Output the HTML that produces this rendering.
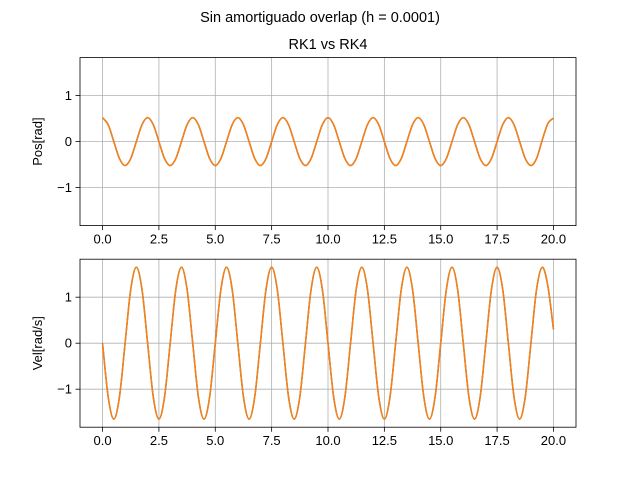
<!DOCTYPE html>
<html><head><meta charset="utf-8">
<style>body{margin:0;background:#fff}svg{display:block;font-family:"Liberation Sans","DejaVu Sans",sans-serif}</style>
</head><body>
<svg id="chart" width="640" height="480">
<text x="320" y="22" font-size="14.5" text-anchor="middle">Sin amortiguado overlap (h = 0.0001)</text>
<text x="328" y="49" font-size="14.5" text-anchor="middle">RK1 vs RK4</text>
</svg>
<script>
const tStep = 0.25;
const posRK1 = [
0.52,0.368,0,-0.368,-0.52,-0.368,0,0.368,
0.52,0.368,0,-0.368,-0.52,-0.368,0,0.368,
0.52,0.368,0,-0.368,-0.52,-0.368,0,0.368,
0.52,0.368,0,-0.368,-0.52,-0.368,0,0.368,
0.52,0.368,0,-0.368,-0.52,-0.368,0,0.368,
0.52,0.368,0,-0.368,-0.52,-0.368,0,0.368,
0.52,0.368,0,-0.368,-0.52,-0.368,0,0.368,
0.52,0.368,0,-0.368,-0.52,-0.368,0,0.368,
0.52,0.368,0,-0.368,-0.52,-0.368,0,0.368,
0.52,0.368,0,-0.368,-0.52,-0.368,0.03,0.39,
0.51];
const posRK4 = posRK1.slice();
const velRK1 = [
0,-1.167,-1.65,-1.167,0,1.167,1.65,1.167,
0,-1.167,-1.65,-1.167,0,1.167,1.65,1.167,
0,-1.167,-1.65,-1.167,0,1.167,1.65,1.167,
0,-1.167,-1.65,-1.167,0,1.167,1.65,1.167,
0,-1.167,-1.65,-1.167,0,1.167,1.65,1.167,
0,-1.167,-1.65,-1.167,0,1.167,1.65,1.167,
0,-1.167,-1.65,-1.167,0,1.167,1.65,1.167,
0,-1.167,-1.65,-1.167,0,1.167,1.65,1.167,
0,-1.167,-1.65,-1.167,0,1.167,1.65,1.167,
0,-1.167,-1.65,-1.167,0,1.167,1.65,1.25,
0.3];
const velRK4 = velRK1.slice();
const xTicks = [0,2.5,5,7.5,10,12.5,15,17.5,20];
const xTickLabels = ["0.0","2.5","5.0","7.5","10.0","12.5","15.0","17.5","20.0"];
const yTicks = [-1,0,1];
const yTickLabels = ["\u22121","0","1"];

const NS="http://www.w3.org/2000/svg";
const svg=document.getElementById('chart');
const L=80,R=576,xMin=-1,xMax=21,yMin=-1.826,yMax=1.826;
function mk(tag,attrs,parent){const e=document.createElementNS(NS,tag);for(const k in attrs)e.setAttribute(k,attrs[k]);(parent||svg).appendChild(e);return e;}
const xs=v=>L+(v-xMin)/(xMax-xMin)*(R-L);
function makeAxes(top,bot,name,ylabel,s1,s2){
  const ys=v=>bot-(v-yMin)/(yMax-yMin)*(bot-top);
  const g=mk('g',{});
  
  
  xTicks.forEach((t,i)=>{
    const gl=mk('line',{x1:xs(t),x2:xs(t),y1:top,y2:bot,stroke:'#b0b0b0','stroke-width':0.8},g);
    
    
    mk('line',{x1:xs(t),x2:xs(t),y1:bot,y2:bot+4.5,stroke:'#000','stroke-width':0.8},g);
    const tx=mk('text',{x:xs(t),y:bot+18,'font-size':13,'text-anchor':'middle'},g);
    tx.textContent=xTickLabels[i];
    
    
  });
  yTicks.forEach((t,i)=>{
    const gl=mk('line',{x1:L,x2:R,y1:ys(t),y2:ys(t),stroke:'#b0b0b0','stroke-width':0.8},g);
    
    
    mk('line',{x1:L-4.5,x2:L,y1:ys(t),y2:ys(t),stroke:'#000','stroke-width':0.8},g);
    const tx=mk('text',{x:L-8,y:ys(t)+4.5,'font-size':13,'text-anchor':'end'},g);
    tx.textContent=yTickLabels[i];
    
    
  });
  [[s1,'#1f77b4','rk1-line'],[s2,'#ff7f0e','rk4-line']].forEach(([arr,col,nm])=>{
    const pts=arr.map((v,i)=>[xs(i*tStep),ys(v)]);
    let d='M'+pts[0][0]+','+pts[0][1];
    for(let i=0;i<pts.length-1;i++){
      const p0=pts[Math.max(i-1,0)],p1=pts[i],p2=pts[i+1],p3=pts[Math.min(i+2,pts.length-1)];
      const c1=[p1[0]+(p2[0]-p0[0])/6,p1[1]+(p2[1]-p0[1])/6];
      const c2=[p2[0]-(p3[0]-p1[0])/6,p2[1]-(p3[1]-p1[1])/6];
      d+=' C'+c1+' '+c2+' '+p2;
    }
    const p=mk('path',{d:d,fill:'none',stroke:col,'stroke-width':1.5},g);
    
    
  });
  const fr=mk('rect',{x:L,y:top,width:R-L,height:bot-top,fill:'none',stroke:'#000','stroke-width':0.8},g);
  
  
  const yl=mk('text',{x:0,y:0,'font-size':13,'text-anchor':'middle',transform:`translate(42,${(top+bot)/2}) rotate(-90)`},g);
  yl.textContent=ylabel;
  
  
}
makeAxes(57.6,225.6,'position-axes','Pos[rad]',posRK1,posRK4);
makeAxes(259.2,427.2,'velocity-axes','Vel[rad/s]',velRK1,velRK4);
</script>
</body></html>
